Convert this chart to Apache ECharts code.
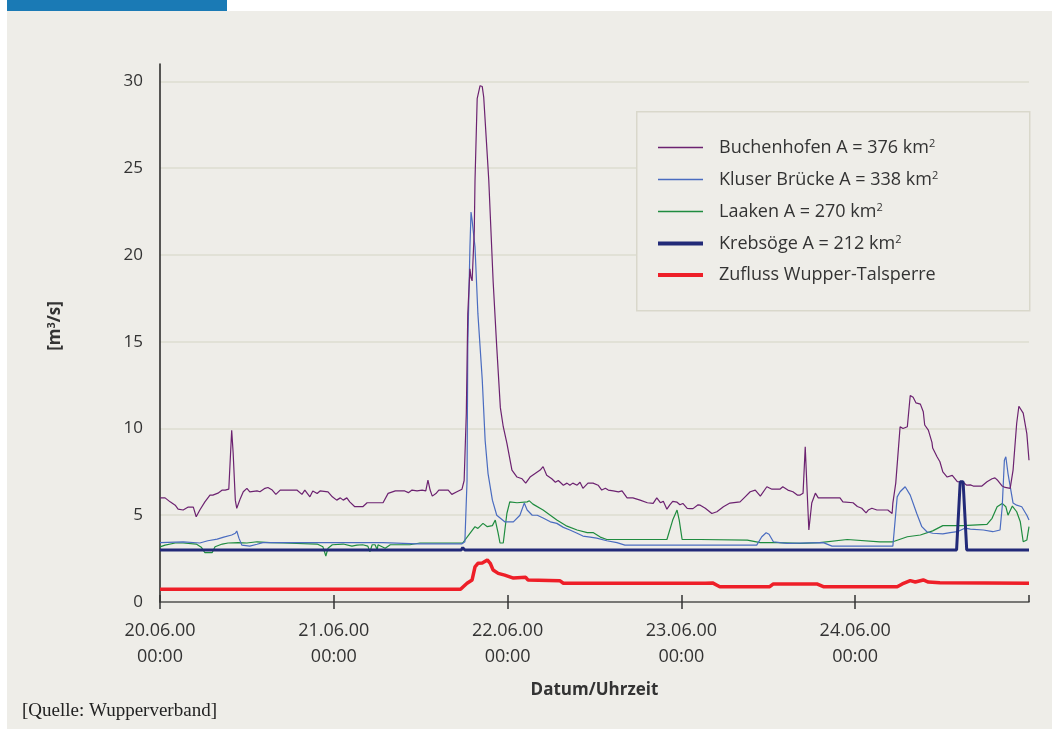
<!DOCTYPE html>
<html>
<head>
<meta charset="utf-8">
<script src="https://cdn.jsdelivr.net/npm/echarts@6/dist/echarts.min.js"></script>
<style>
  html, body { margin: 0; padding: 0; background: #ffffff; }
  #chart { width: 1052px; height: 729px; }
</style>
</head>
<body>
<div id="chart"></div>
<script>
// Abfluss an Pegeln der Wupper, 20.06.2000 bis 25.06.2000
// Zeitachse: Stunden ab 20.06.00 00:00

const dayLabels = ['20.06.00\n00:00', '21.06.00\n00:00', '22.06.00\n00:00', '23.06.00\n00:00', '24.06.00\n00:00'];
const yTicks = [0, 5, 10, 15, 20, 25, 30];

const buchenhofen = [
  [0,6.0],[0.7,6.0],[1.4,5.77],[2.1,5.58],[2.5,5.35],[3.2,5.3],[3.9,5.47],[4.6,5.47],[5.0,4.91],[5.5,5.3],
  [6.2,5.77],[6.9,6.16],[7.3,6.16],[8.0,6.27],[8.6,6.45],[9.0,6.45],[9.5,6.5],[9.7,6.5],[9.9,9.9],[10.1,8.6],
  [10.4,5.87],[10.6,5.4],[11.1,5.97],[11.5,6.35],[12.0,6.55],[12.4,6.35],[13.4,6.4],[13.8,6.35],[14.5,6.55],[14.9,6.6],
  [15.5,6.45],[16.0,6.2],[16.6,6.45],[18.9,6.45],[19.6,6.2],[20.0,6.45],[20.7,6.06],[21.1,6.4],[21.7,6.25],[22.1,6.4],
  [23.2,6.35],[23.8,6.06],[24.4,5.87],[24.9,6.0],[25.3,5.87],[25.8,6.0],[26.2,5.77],[26.9,5.49],[27.3,5.49],[28.0,5.49],
  [28.6,5.72],[30.8,5.72],[31.5,6.26],[32.5,6.4],[33.8,6.4],[34.3,6.3],[34.8,6.45],[35.5,6.4],[36.2,6.45],[36.7,6.4],
  [37.0,7.02],[37.3,6.45],[37.6,6.1],[38.1,6.25],[38.5,6.45],[39.8,6.45],[40.3,6.2],[41.0,6.35],[41.7,6.5],[42.0,7.0],
  [42.3,10.9],[42.5,16.6],[42.8,19.2],[42.95,18.7],[43.1,18.5],[43.4,21.4],[43.5,24.3],[43.8,29.0],[44.2,29.75],[44.5,29.7],
  [44.7,29.1],[45.3,25.0],[45.4,24.3],[46.0,18.5],[46.5,14.7],[47.0,11.2],[47.4,10.1],[47.9,9.15],[48.6,7.6],[49.3,7.2],
  [50.0,7.1],[50.5,6.85],[51.1,7.2],[51.8,7.4],[52.5,7.6],[52.9,7.8],[53.4,7.3],[54.1,7.1],[54.6,6.9],[55.0,7.0],
  [55.7,6.73],[56.2,6.85],[56.6,6.73],[57.0,6.85],[57.6,6.73],[58.0,6.9],[58.4,6.55],[59.1,6.85],[59.8,6.85],[60.5,6.73],
  [61.0,6.45],[61.5,6.55],[61.9,6.45],[62.6,6.4],[63.3,6.35],[63.8,6.4],[64.5,6.0],[65.3,6.0],[66.3,5.87],[67.3,5.72],
  [68.1,5.68],[68.6,6.0],[69.1,5.72],[69.5,5.8],[70.0,5.35],[70.4,5.6],[70.8,5.8],[71.4,5.75],[71.8,5.6],[72.2,5.68],
  [72.8,5.4],[73.2,5.38],[73.6,5.38],[74.3,5.6],[74.6,5.58],[75.3,5.4],[76.2,5.1],[76.9,5.2],[77.8,5.49],[78.7,5.7],
  [80.1,5.77],[80.8,6.06],[81.5,6.35],[82.2,6.45],[82.9,6.1],[83.8,6.64],[84.5,6.5],[85.6,6.5],[86.0,6.64],[86.7,6.45],
  [87.4,6.35],[88.0,6.16],[88.4,6.16],[88.8,6.27],[89.1,8.94],[89.35,6.5],[89.6,4.15],[90.0,5.7],[90.5,6.27],[90.9,6.0],
  [92.1,6.0],[93.9,6.0],[94.3,5.77],[95.7,5.72],[96.3,5.5],[96.9,5.4],[97.5,5.14],[97.8,5.3],[98.3,5.4],[99.0,5.3],
  [100.5,5.3],[101.1,5.1],[101.2,5.7],[101.6,6.85],[102.2,10.1],[102.6,10.0],[103.2,10.1],[103.6,11.9],[104.0,11.8],[104.4,11.47],
  [105.0,11.4],[105.4,10.96],[105.6,10.2],[106.1,9.9],[106.6,9.2],[106.7,8.87],[107.3,8.37],[107.7,8.08],[108.1,7.5],[108.7,7.2],
  [109.4,7.3],[110.1,6.93],[110.8,6.93],[111.4,6.73],[111.9,6.75],[112.3,6.68],[113.5,6.68],[114.2,6.93],[114.9,7.1],[115.3,7.15],
  [115.7,7.0],[116.3,6.68],[116.7,6.6],[117.4,6.55],[117.8,7.6],[118.3,10.3],[118.6,11.28],[119.2,10.88],[119.7,9.7],[120,8.17]
];

const kluserBruecke = [
  [0,3.42],[3.2,3.47],[5.5,3.4],[6.6,3.53],[7.9,3.62],[8.8,3.74],[9.9,3.86],[10.4,3.96],[10.6,4.09],[10.9,3.68],
  [11.3,3.28],[12.4,3.22],[13.4,3.33],[14.2,3.42],[30.8,3.42],[35.5,3.35],[41.7,3.35],[42.1,3.47],[42.4,7.0],[42.5,14.7],
  [42.8,20.45],[42.95,22.47],[43.1,22.0],[43.2,21.6],[43.5,20.45],[43.9,16.6],[44.5,12.8],[44.9,9.3],[45.3,7.4],[45.9,5.87],
  [46.5,5.0],[47.6,4.62],[48.8,4.62],[49.7,5.0],[50.3,5.7],[50.7,5.3],[51.4,5.0],[52.1,5.0],[52.9,4.84],[53.9,4.62],
  [54.8,4.53],[55.7,4.3],[56.6,4.15],[57.6,3.96],[58.4,3.8],[59.4,3.74],[60.3,3.68],[61.7,3.53],[63.1,3.42],[64.2,3.28],
  [82.4,3.28],[83.1,3.76],[83.7,3.99],[84.1,3.9],[84.7,3.47],[85.6,3.42],[86.6,3.38],[91.6,3.42],[92.8,3.22],[101.2,3.22],
  [101.8,6.06],[102.2,6.35],[102.9,6.64],[103.6,6.16],[104.5,5.1],[105.2,4.34],[105.9,4.05],[106.7,3.96],[108.1,3.93],[109.1,4.0],
  [110.1,4.05],[111.2,4.26],[111.9,4.2],[113.7,4.15],[115.0,4.05],[116.0,4.15],[116.3,5.49],[116.6,8.17],[116.8,8.37],[117.1,7.4],
  [117.8,5.7],[118.3,5.58],[119.0,5.49],[119.7,5.0],[120,4.72]
];

const laaken = [
  [0,3.18],[0.7,3.28],[2.1,3.4],[3.2,3.4],[5.0,3.34],[5.7,3.16],[6.2,2.84],[7.2,2.84],[7.6,3.18],[8.6,3.34],
  [9.4,3.4],[10.8,3.42],[12.0,3.4],[13.4,3.47],[15.2,3.42],[17.0,3.4],[21.7,3.34],[22.5,3.18],[22.9,2.65],[23.2,3.1],
  [23.8,3.3],[25.3,3.34],[26.5,3.22],[27.2,3.28],[28.0,3.3],[28.7,3.22],[29.0,2.9],[29.3,3.3],[29.7,3.3],[30.0,3.0],
  [30.1,3.3],[31.1,3.1],[31.8,3.3],[34.5,3.3],[35.9,3.4],[41.8,3.4],[42.8,3.96],[43.5,4.34],[43.9,4.24],[44.6,4.53],
  [45.2,4.34],[45.9,4.4],[46.3,4.72],[46.7,3.96],[46.95,3.4],[47.4,3.4],[47.9,5.1],[48.3,5.77],[49.3,5.72],[50.7,5.77],
  [51.0,5.83],[51.5,5.64],[52.9,5.3],[54.8,4.72],[56.2,4.37],[57.6,4.15],[59.0,4.0],[59.8,4.0],[60.8,3.74],[61.7,3.6],
  [70.0,3.6],[70.8,4.72],[71.4,5.3],[71.7,4.72],[72.1,3.6],[74.6,3.6],[81.1,3.57],[82.9,3.42],[85.2,3.42],[88.4,3.38],
  [91.1,3.42],[94.9,3.6],[99.4,3.47],[101.2,3.47],[103.2,3.76],[105.0,3.86],[106.7,4.1],[108.1,4.4],[110.9,4.4],[114.2,4.47],
  [114.9,4.82],[115.6,5.49],[116.3,5.68],[116.8,5.49],[117.1,5.0],[117.7,5.53],[118.3,5.2],[118.8,4.62],[119.2,3.47],[119.7,3.57],
  [120,4.34]
];

const krebsoege = [
  [0,3.0],[41.6,3.0],[41.8,3.13],[42.1,3.0],[43.0,3.0],[43.2,3.1],[43.5,3.0],[110.0,3.0],[110.5,6.93],[110.9,6.93],
  [111.4,3.0],[120,3.0]
];

const zuflussTalsperre = [
  [0,0.73],[41.5,0.73],[41.8,0.85],[42.4,1.08],[43.1,1.27],[43.5,2.03],[43.9,2.23],[44.5,2.25],[45.2,2.42],[45.6,2.23],
  [46.0,1.84],[46.7,1.65],[47.6,1.55],[48.8,1.38],[50.5,1.42],[50.8,1.27],[55.2,1.23],[55.7,1.08],[75.3,1.08],[76.3,1.1],
  [77.3,0.88],[84.2,0.88],[84.7,1.04],[90.7,1.04],[91.6,0.88],[101.8,0.88],[102.5,1.04],[103.6,1.23],[104.3,1.15],[105.4,1.27],
  [106.1,1.15],[107.7,1.11],[120,1.08]
];

const legendNames = ['Buchenhofen', 'Kluser Brücke', 'Laaken', 'Krebsöge', 'Zufluss Wupper-Talsperre'];
const legendLabel = {
  'Buchenhofen': '{t|Buchenhofen A = 376 km}{sup|2}',
  'Kluser Brücke': '{t|Kluser Brücke A = 338 km}{sup|2}',
  'Laaken': '{t|Laaken A = 270 km}{sup|2}',
  'Krebsöge': '{t|Krebsöge A = 212 km}{sup|2}',
  'Zufluss Wupper-Talsperre': '{t|Zufluss Wupper-Talsperre}'
};

const FONT = '"Open Sans", "Noto Sans", sans-serif';
const PANEL = '#eeede8';
const GRIDLINE = '#dddcd1';

const COLORS = {
  'Buchenhofen': '#6c2270',
  'Kluser Brücke': '#4a6cc0',
  'Laaken': '#1f8c3f',
  'Krebsöge': '#222a78',
  'Zufluss Wupper-Talsperre': '#ee1f28'
};
const WIDTHS = {
  'Buchenhofen': 1.2,
  'Kluser Brücke': 1.2,
  'Laaken': 1.2,
  'Krebsöge': 3,
  'Zufluss Wupper-Talsperre': 3.5
};

const chart = echarts.init(document.getElementById('chart'), null, { renderer: 'canvas' });

function lineSeries(name, data, z) {
  return {
    name: name,
    type: 'line',
    data: data,
    showSymbol: false,
    symbol: 'none',
    z: z,
    lineStyle: { color: COLORS[name], width: WIDTHS[name] },
    itemStyle: { color: COLORS[name] },
    emphasis: { disabled: true }
  };
}

chart.setOption({
  backgroundColor: '#ffffff',
  animation: false,
  textStyle: { fontFamily: FONT },
  graphic: [
    { type: 'rect', left: 7, top: 11, shape: { width: 1045, height: 718 }, style: { fill: PANEL }, z: -10, silent: true },
    { type: 'rect', left: 7, top: 0, shape: { width: 220, height: 11 }, style: { fill: '#1a7ab5' }, z: -9, silent: true },
    { type: 'rect', left: 636, top: 111, shape: { width: 393, height: 199 },
      style: { fill: PANEL, stroke: '#d9d8cb', lineWidth: 1.5 }, z: 3, silent: true },
    { type: 'text', left: 22, top: 702,
      style: { text: '[Quelle: Wupperverband]', fill: '#222222',
               font: '19px "Liberation Serif", "DejaVu Serif", serif' }, z: 5 }
  ],
  legend: {
    orient: 'vertical',
    left: 656,
    top: 138,
    itemWidth: 45,
    itemHeight: 14,
    itemGap: 13.5,
    padding: 0,
    data: legendNames.map(function (n) {
      return {
        name: n,
        lineStyle: { color: COLORS[n], width: WIDTHS[n] < 2 ? 1.6 : 4 }
      };
    }),
    formatter: function (n) { return legendLabel[n]; },
    itemStyle: { color: 'transparent', borderWidth: 0, opacity: 0 },
    textStyle: {
      color: '#333333',
      padding: [0, 0, 0, 11],
      rich: {
        t: { fontFamily: FONT, fontSize: 18, color: '#333333' },
        sup: { fontFamily: FONT, fontSize: 11, color: '#333333', verticalAlign: 'top', padding: [0, 0, 8, 0] }
      }
    },
    selectedMode: false,
    z: 6
  },
  grid: { left: 160, right: 23, top: 64, bottom: 127, containLabel: false },
  xAxis: [
    {
      type: 'value',
      min: 0,
      max: 120,
      interval: 24,
      name: 'Datum/Uhrzeit',
      nameLocation: 'middle',
      nameGap: 80,
      nameTextStyle: { fontFamily: FONT, fontSize: 17, fontWeight: 'bold', color: '#333333' },
      axisLine: { show: true, onZero: false, lineStyle: { color: '#555555', width: 1.5 } },
      axisTick: { show: true, inside: false, length: 7, lineStyle: { color: '#333333', width: 1.5 } },
      axisLabel: {
        show: true,
        margin: 16,
        fontFamily: FONT,
        fontSize: 18,
        lineHeight: 26,
        color: '#333333',
        showMaxLabel: false,
        formatter: function (v) { return dayLabels[Math.round(v / 24)] || ''; }
      },
      splitLine: { show: false }
    },
    {
      type: 'value',
      min: 0,
      max: 120,
      interval: 24,
      position: 'bottom',
      axisLine: { show: false },
      axisTick: { show: true, inside: true, length: 7, lineStyle: { color: '#333333', width: 1.5 } },
      axisLabel: { show: false },
      splitLine: { show: false }
    }
  ],
  yAxis: {
    type: 'value',
    min: 0,
    max: 31,
    interval: 5,
    name: '{a|[m}{s|3}{a|/s]}',
    nameLocation: 'middle',
    nameGap: 95,
    nameRotate: 90,
    nameTextStyle: {
      padding: [0, 0, 0, 14],
      rich: {
        a: { fontFamily: FONT, fontSize: 17, fontWeight: 'bold', color: '#333333' },
        s: { fontFamily: FONT, fontSize: 11, fontWeight: 'bold', color: '#333333', verticalAlign: 'top', padding: [0, 0, 8, 0] }
      }
    },
    axisLine: { show: true, lineStyle: { color: '#222222', width: 1.5 } },
    axisTick: { show: false, customValues: yTicks },
    axisLabel: {
      customValues: yTicks,
      margin: 17,
      fontFamily: FONT,
      fontSize: 17,
      color: '#333333'
    },
    splitLine: { show: true, lineStyle: { color: GRIDLINE, width: 1.5 } }
  },
  series: [
    lineSeries('Buchenhofen', buchenhofen, 5),
    lineSeries('Kluser Brücke', kluserBruecke, 4),
    lineSeries('Laaken', laaken, 3),
    lineSeries('Krebsöge', krebsoege, 6),
    lineSeries('Zufluss Wupper-Talsperre', zuflussTalsperre, 7)
  ]
});
</script>
</body>
</html>
